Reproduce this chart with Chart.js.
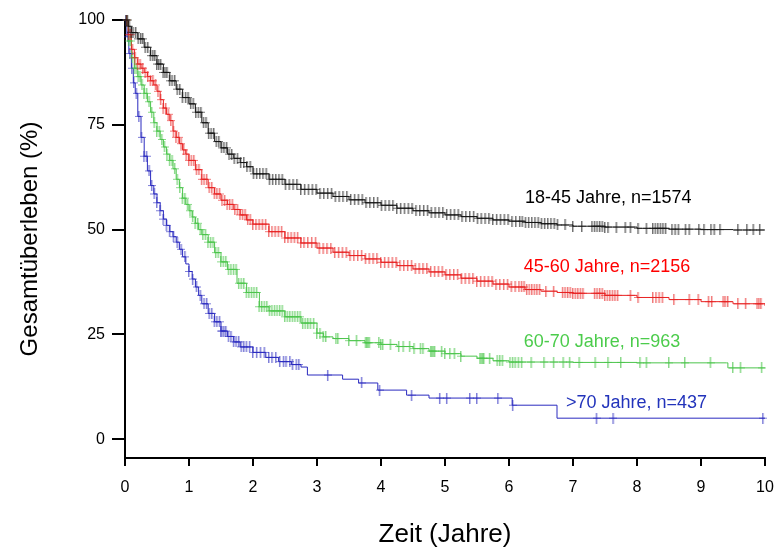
<!DOCTYPE html>
<html>
<head>
<meta charset="utf-8">
<script src="https://cdn.jsdelivr.net/npm/chart.js@4.4.1/dist/chart.umd.min.js"></script>
<style>
  html, body { margin: 0; background: #fff; }
</style>
</head>
<body>
<canvas id="km" width="778" height="552"></canvas>
<script>
// Kaplan-Meier curves by age group: step vertices (years, % surviving) and censoring times
const groupLabels = ['18-45 Jahre, n=1574', '45-60 Jahre, n=2156', '60-70 Jahre, n=963', '>70 Jahre, n=437'];

const t1845 = [0,0.05,0.1,0.2,0.3,0.4,0.5,0.6,0.7,0.8,0.9,1.0,1.1,1.2,1.3,1.4,1.5,1.6,1.7,1.8,1.9,2.0,2.25,2.5,2.75,3.0,3.25,3.5,3.75,4.0,4.25,4.5,4.75,5.0,5.25,5.5,5.75,6.0,6.25,6.5,6.75,7.0,7.5,8.0,8.5,9.0,9.5,10];
const s1845 = [100,98.5,97,95.5,93.5,91.5,89.5,87.5,85.5,83.5,81.5,80,78,75.5,73,71,69.5,68,67,66,65,63.3,62,60.8,59.6,58.7,57.9,57.1,56.4,55.8,55.1,54.5,54,53.5,53.1,52.7,52.3,52,51.7,51.4,51.1,50.8,50.6,50.3,50.1,50,49.9,49.9];
const c1845 = [0.02,0.04,0.07,0.1,0.13,0.17,0.21,0.25,0.28,0.32,0.36,0.4,0.44,0.47,0.5,0.53,0.56,0.6,0.63,0.66,0.7,0.74,0.78,0.82,0.86,0.9,0.95,0.99,1.03,1.07,1.11,1.15,1.19,1.23,1.27,1.31,1.35,1.39,1.43,1.47,1.51,1.55,1.59,1.63,1.67,1.71,1.76,1.81,1.86,1.91,1.96,2.01,2.06,2.11,2.16,2.21,2.26,2.31,2.36,2.41,2.46,2.51,2.57,2.63,2.69,2.75,2.81,2.87,2.93,2.99,3.05,3.11,3.17,3.23,3.29,3.35,3.41,3.47,3.53,3.59,3.65,3.71,3.77,3.83,3.89,3.95,4.01,4.07,4.13,4.19,4.25,4.31,4.37,4.43,4.49,4.55,4.61,4.67,4.73,4.79,4.85,4.91,4.97,5.03,5.09,5.15,5.21,5.27,5.33,5.39,5.45,5.51,5.57,5.63,5.69,5.75,5.81,5.87,5.93,5.99,6.05,6.11,6.17,6.21,6.26,6.31,6.36,6.41,6.46,6.51,6.56,6.61,6.66,6.71,6.76,6.88,7.0,7.14,7.3,7.34,7.38,7.42,7.46,7.5,7.55,7.68,7.82,7.9,8.02,8.15,8.25,8.29,8.33,8.37,8.41,8.45,8.55,8.6,8.65,8.76,8.82,8.97,9.05,9.16,9.21,9.3,9.58,9.72,9.82,9.92];

const t4560 = [0,0.05,0.1,0.15,0.2,0.25,0.3,0.35,0.4,0.45,0.5,0.55,0.6,0.65,0.7,0.75,0.8,0.85,0.9,0.95,1.0,1.1,1.2,1.3,1.4,1.5,1.6,1.7,1.8,1.9,2.0,2.25,2.5,2.75,3.0,3.25,3.5,3.75,4.0,4.25,4.5,4.75,5.0,5.25,5.5,5.75,6.0,6.25,6.5,6.75,7.0,7.5,8.0,8.5,9.0,9.5,10];
const s4560 = [100,96.5,93,91,89.5,88.5,87.5,86.5,85.5,84.5,83,81,79,77.5,76,73.5,72,70.5,69,68,66.5,64.3,62,60,58.5,57,56,54.8,53.5,52.3,51.3,49.5,48,46.8,45.6,44.6,43.8,43,42.2,41.4,40.6,39.9,39.2,38.4,37.7,37,36.3,35.7,35.3,35,34.8,34.3,33.8,33.3,32.8,32.3,31.8];
const c4560 = [0.03,0.06,0.09,0.12,0.16,0.2,0.24,0.28,0.32,0.36,0.4,0.44,0.48,0.52,0.56,0.6,0.64,0.68,0.72,0.76,0.8,0.84,0.88,0.92,0.96,1.0,1.04,1.08,1.12,1.16,1.2,1.24,1.28,1.32,1.36,1.4,1.44,1.48,1.52,1.56,1.6,1.64,1.68,1.72,1.76,1.8,1.84,1.88,1.92,1.96,2.0,2.05,2.1,2.15,2.2,2.25,2.3,2.35,2.4,2.45,2.5,2.55,2.6,2.65,2.7,2.75,2.8,2.86,2.92,2.98,3.04,3.1,3.16,3.22,3.28,3.34,3.4,3.46,3.52,3.58,3.64,3.7,3.76,3.82,3.88,3.94,4.0,4.06,4.12,4.18,4.24,4.3,4.36,4.42,4.48,4.54,4.6,4.66,4.72,4.78,4.84,4.9,4.96,5.02,5.08,5.14,5.2,5.26,5.32,5.38,5.44,5.5,5.56,5.62,5.68,5.74,5.8,5.86,5.92,5.98,6.04,6.1,6.16,6.2,6.24,6.28,6.32,6.36,6.4,6.44,6.48,6.58,6.7,6.84,6.88,6.92,6.96,7.0,7.04,7.08,7.12,7.16,7.34,7.38,7.42,7.46,7.5,7.54,7.58,7.62,7.66,7.7,7.9,8.02,8.25,8.3,8.35,8.4,8.58,8.82,8.96,9.12,9.17,9.35,9.38,9.42,9.58,9.7,9.88,9.91,9.94];

const t6070 = [0,0.05,0.1,0.15,0.2,0.25,0.3,0.35,0.4,0.45,0.5,0.55,0.6,0.65,0.7,0.75,0.8,0.85,0.9,0.95,1.0,1.05,1.1,1.15,1.2,1.3,1.4,1.5,1.6,1.75,1.9,2.1,2.25,2.5,2.75,3.0,3.1,3.25,3.5,3.75,4.0,4.25,4.5,4.75,5.0,5.25,5.5,5.75,6.0,7.0,8.0,9.4,9.42,10];
const s6070 = [100,95,91,88.5,86.5,84.5,82.5,80.5,78,75.5,73.5,71.5,69.7,68,66.5,64.5,62,60,57.5,56,54.5,53,51.5,50,48.8,47,44.5,42.3,40.5,37.2,35,31.6,30.6,29.2,27.7,25.3,24.4,24,23.5,23,22.6,22.1,21.6,21,20.4,19.8,19.3,18.7,18.4,18.3,18.2,18.2,17,17];
const c6070 = [0.03,0.06,0.09,0.12,0.15,0.18,0.21,0.24,0.27,0.3,0.34,0.38,0.42,0.46,0.5,0.54,0.58,0.62,0.66,0.7,0.74,0.78,0.82,0.86,0.9,0.94,0.98,1.02,1.06,1.1,1.14,1.18,1.22,1.26,1.3,1.34,1.38,1.42,1.46,1.5,1.54,1.58,1.62,1.66,1.7,1.74,1.78,1.82,1.86,1.9,1.94,1.98,2.02,2.06,2.1,2.14,2.18,2.22,2.26,2.3,2.34,2.38,2.42,2.46,2.5,2.54,2.58,2.62,2.66,2.7,2.74,2.78,2.82,2.86,2.9,2.95,3.0,3.05,3.1,3.14,3.3,3.33,3.5,3.62,3.76,3.78,3.8,3.82,3.97,4.0,4.03,4.15,4.28,4.35,4.45,4.52,4.62,4.66,4.78,4.8,4.82,4.84,4.95,5.0,5.08,5.15,5.25,5.55,5.57,5.59,5.61,5.7,5.82,5.86,5.9,6.02,6.06,6.1,6.15,6.2,6.35,6.55,6.7,6.85,6.95,7.1,7.35,7.55,7.75,8.05,8.15,8.5,8.75,9.15,9.5,9.62,9.95];

const t70 = [0,0.03,0.06,0.1,0.13,0.16,0.2,0.25,0.3,0.35,0.4,0.45,0.5,0.55,0.6,0.65,0.7,0.75,0.8,0.85,0.9,0.95,1.0,1.05,1.1,1.15,1.2,1.3,1.4,1.5,1.6,1.7,1.8,2.0,2.2,2.4,2.6,2.75,2.85,3.4,3.65,3.95,4.4,4.75,6.05,6.75,10];
const s70 = [100,96,92,88.5,85,82.5,77,72,67.5,64,60.5,58.5,56.4,54.5,52.5,51,49.5,48.3,47,45.3,43.5,41.8,40,38.2,36.3,34.3,32.3,30,28,25.8,24.5,23.2,22,20.7,19.5,18.5,17.8,17.2,15.3,14.3,13.4,11.7,10.5,9.8,8.1,5.0,5.0];
const c70 = [0.02,0.05,0.08,0.11,0.14,0.18,0.22,0.26,0.3,0.34,0.38,0.42,0.46,0.5,0.55,0.6,0.65,0.7,0.76,0.82,0.88,0.94,1.0,1.06,1.12,1.18,1.24,1.28,1.32,1.36,1.4,1.44,1.48,1.5,1.52,1.55,1.58,1.62,1.66,1.7,1.74,1.78,1.82,1.86,1.9,1.95,2.0,2.06,2.12,2.18,2.25,2.3,2.36,2.42,2.48,2.52,2.58,2.62,2.68,2.72,3.17,3.7,3.98,4.48,4.92,5.03,5.39,5.5,5.83,6.06,7.37,7.63,9.97];

const xTicks = [0,1,2,3,4,5,6,7,8,9,10];
const yTicks = [0,25,50,75,100];

const lineColors = ['#1a1a1a', '#e82222', '#4cc44c', '#2a2abf'];
const markColors = ['rgba(20,20,20,0.6)', 'rgba(232,34,34,0.6)', 'rgba(76,196,76,0.65)', 'rgba(42,42,191,0.6)'];
const textColors = ['#000000', '#ff0000', '#4ccc4c', '#2233bb'];

// value of the step function at time t (last vertex at or before t)
function survAt(ts, ss, t) {
  let v = ss[0];
  for (let i = 0; i < ts.length; i++) {
    if (ts[i] <= t) v = ss[i];
    else break;
  }
  return v;
}

// censor tick: a "+" that is taller than it is wide
function censorMark(color) {
  const c = document.createElement('canvas');
  c.width = 8;
  c.height = 11;
  const g = c.getContext('2d');
  g.fillStyle = color;
  g.fillRect(3, 0, 1.5, 11);
  g.fillRect(0, 5, 8, 1);
  return c;
}

const curves = [
  [t1845, s1845, c1845],
  [t4560, s4560, c4560],
  [t6070, s6070, c6070],
  [t70, s70, c70]
];

const datasets = [];
curves.forEach(([ts, ss, cs], g) => {
  datasets.push({
    label: groupLabels[g],
    data: ts.map((t, i) => ({ x: t, y: ss[i] })),
    stepped: true,
    borderColor: lineColors[g],
    borderWidth: 1,
    pointRadius: 0,
    fill: false,
    order: 2
  });
  datasets.push({
    label: groupLabels[g] + ' (zensiert)',
    data: cs.map(t => ({ x: t, y: survAt(ts, ss, t) })),
    showLine: false,
    pointStyle: censorMark(markColors[g]),
    pointRadius: 5,
    clip: false,
    order: 1
  });
});

// group names written next to the curve tails
const labelPos = [[6.25, 56.3], [6.23, 39.9], [6.23, 22.0], [6.89, 7.4]];
const groupText = {
  id: 'groupText',
  afterDatasetsDraw(chart) {
    const { ctx, scales: { x, y } } = chart;
    ctx.save();
    ctx.font = '18px "Liberation Sans", Arial, sans-serif';
    ctx.textAlign = 'left';
    ctx.textBaseline = 'alphabetic';
    groupLabels.forEach((txt, i) => {
      ctx.fillStyle = textColors[i];
      ctx.fillText(txt, x.getPixelForValue(labelPos[i][0]), y.getPixelForValue(labelPos[i][1]));
    });
    ctx.restore();
  }
};

const fontFamily = '"Liberation Sans", Arial, sans-serif';

new Chart(document.getElementById('km'), {
  type: 'line',
  data: { datasets },
  plugins: [groupText],
  options: {
    responsive: false,
    animation: false,
    layout: { padding: { top: 20, right: 13, left: 0, bottom: 0 } },
    plugins: { legend: { display: false }, tooltip: { enabled: false } },
    scales: {
      x: {
        type: 'linear',
        min: 0,
        max: 10,
        afterBuildTicks: s => { s.ticks = xTicks.map(v => ({ value: v })); },
        afterFit: s => { s.height = 94; s.paddingLeft = 0; s.paddingRight = 0; },
        border: { display: true, color: '#000', width: 2 },
        grid: { drawOnChartArea: false, drawTicks: true, tickLength: 8, color: '#000', lineWidth: 2 },
        ticks: { color: '#000', padding: 12, maxRotation: 0, font: { family: fontFamily, size: 16 } },
        title: { display: true, text: 'Zeit (Jahre)', color: '#000', padding: { top: 0, bottom: 2 }, font: { family: fontFamily, size: 26 } }
      },
      y: {
        type: 'linear',
        min: -4.5,
        max: 100,
        afterBuildTicks: s => { s.ticks = yTicks.map(v => ({ value: v })); },
        afterFit: s => { s.width = 125; },
        border: { display: true, color: '#000', width: 2 },
        grid: { drawOnChartArea: false, drawTicks: true, tickLength: 13, color: '#000', lineWidth: 2 },
        ticks: { color: '#000', padding: 7, font: { family: fontFamily, size: 16 } },
        title: { display: true, text: 'Gesamtüberleben (%)', color: '#000', padding: { top: 16, bottom: 0 }, font: { family: fontFamily, size: 24 } }
      }
    }
  }
});
</script>
</body>
</html>
